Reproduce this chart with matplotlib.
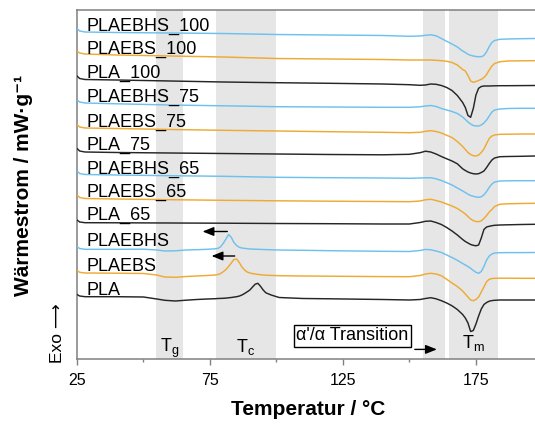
import matplotlib
matplotlib.use("Agg")
import matplotlib.pyplot as plt

plt.rcParams['font.family'] = ['Liberation Sans', 'DejaVu Sans']

# Temperature grid for the annealed samples (second heating after annealing)
T_ann = [25, 26, 28, 40, 60, 80, 100, 120, 140, 150, 154, 156, 158, 160, 162, 164,
         166, 168, 170, 171, 172, 173, 174, 175, 176, 177, 178, 179, 180, 181, 182,
         184, 187, 192, 197]

# Heat flow (stacked, exo up, arbitrary offsets)
plaebhs_100 = [330.5, 328, 327, 326.5, 326, 325.5, 324.5, 324, 323.5, 322.7, 323, 323.7,
               324.2, 323.2, 320.5, 317.7, 315, 312, 308, 306.5, 304.7, 303.7, 303, 302.5,
               302.3, 302.3, 303.5, 307.3, 312.5, 316.5, 318.5, 319.7, 320, 320.3, 320.5]
plaebs_100 = [308, 306, 305, 304, 303, 302, 300.5, 300, 299.5, 299, 299, 299, 299, 298.7,
              298.3, 297.7, 296.5, 294, 289.5, 288, 283.5, 278, 276.7, 277.5, 278.5, 279.7,
              281.5, 284.5, 289, 293, 295.5, 297.3, 298, 298.2, 298.3]
pla_100 = [283, 280.5, 279.5, 279, 278, 277, 276.3, 275.7, 275, 274.3, 273.7, 274, 275,
           274.7, 273.5, 271.5, 268.5, 263.5, 256.5, 251.5, 243.5, 241.7, 250.5, 264, 270.7,
           272.5, 273, 273, 273, 273.1, 273.2, 273.3, 273.3, 273.4, 273.5]
plaebhs_75 = [259, 257, 256, 255.2, 254, 253.2, 252.3, 252, 251.7, 251.7, 252.2, 253, 253.5,
              252.5, 250.5, 249, 247.5, 245.5, 242, 239.5, 237, 235, 233.5, 233, 233, 234,
              236, 239, 243, 247, 249, 250, 250.5, 250.7, 250.7]
plaebs_75 = [234.5, 232, 231, 230.5, 229.5, 228.7, 228, 227.3, 226.7, 226.3, 226.7, 227.7,
             228.3, 227.5, 226, 223.7, 221.5, 217.5, 212.5, 209.5, 206.5, 204.5, 203.3, 203,
             204, 206.5, 210, 215.5, 220.5, 223, 224, 224.7, 224.8, 225, 225]
pla_75 = [210.5, 208, 207, 206.5, 206, 205.5, 205, 204.5, 204.2, 204.7, 206.3, 207.8, 207,
          205, 202.5, 200.2, 198, 195.2, 190.2, 188.5, 187, 186, 185.3, 185, 185.3, 186.5,
          188, 191.5, 195.5, 199, 201, 202.3, 202.5, 202.7, 203]
plaebhs_65 = [188, 185.5, 184.5, 184, 183.3, 182.7, 181.7, 181.3, 181, 180.7, 181, 181.2,
              181.3, 180.2, 178.5, 176.3, 174, 171, 168, 166.5, 164.8, 163.5, 162.7, 162,
              161.7, 162.2, 164.2, 167.5, 171.7, 175, 177, 178, 178.2, 178.3, 178.3]
plaebs_65 = [164, 161.5, 160.5, 160, 159.3, 158.7, 158.2, 157.8, 157.5, 157.3, 158, 159.2,
             159.7, 158.5, 157, 155, 153, 150.5, 147, 145, 142.5, 140, 138.3, 137.5, 137.3,
             138.2, 140.5, 143.5, 147, 149.5, 152.5, 154.8, 155.2, 155.5, 155.7]
pla_65 = [139, 137, 136.3, 136.2, 136, 135.8, 135.5, 135.3, 135, 135, 136.5, 137.7, 138,
          136.5, 134.5, 131.5, 128, 124, 119.5, 117.5, 116, 114.5, 113.7, 113.2, 114, 121,
          129.5, 132, 132.7, 133.3, 133.7, 134, 134.2, 134.5, 134.7]

# Temperature grid for the first heating runs (with cold crystallisation)
T_first = [25, 26, 28, 40, 50, 55, 58, 62, 66, 70, 74, 77, 78, 79, 80, 81, 82, 83, 84, 85,
           86, 87, 88, 89, 90, 91, 92, 93, 94, 95, 96, 98, 101, 110, 120, 140, 150, 154,
           156, 158, 160, 162, 164, 166, 168, 170, 171, 172, 173, 174, 175, 176, 177, 178,
           179, 180, 181, 182, 184, 187, 192, 197]

plaebhs = [112.3, 110.5, 109.7, 109.7, 109.8, 109, 108, 108.2, 109, 109.3, 109.7, 110.2,
           110.7, 112.2, 115.7, 120, 124.5, 121.7, 116.5, 113.5, 111.7, 111, 110.6, 110.3,
           110, 109.9, 109.8, 109.7, 109.6, 109.5, 109.4, 109.2, 109, 108.7, 108.3, 107.7,
           107.5, 108.5, 109.6, 109.2, 108, 106.5, 104, 101.5, 98.7, 95.5, 94, 92.5, 90.7,
           88.5, 86.7, 85.7, 87.5, 92.5, 99, 103, 105, 106, 106.3, 106.4, 106.4, 106.5]
plaebs = [88.5, 86.7, 86, 85.8, 85.5, 84, 82, 81.7, 82.5, 83, 83.5, 84, 84.5, 85.5, 87.3,
          89.5, 92.5, 96, 99.5, 100, 96.5, 92, 89, 87, 86, 85.4, 85, 84.6, 84.3, 84, 83.8,
          83.6, 83.3, 83, 82.8, 82.4, 82.3, 83.5, 85, 85.7, 85, 83.3, 79.7, 76, 72.5, 68,
          65, 62, 59, 58.3, 59.5, 62, 67, 72, 77.3, 79.7, 80.5, 80.7, 80.8, 80.8, 80.7, 80.7]
pla = [64.5, 63, 62.3, 62.3, 62, 60, 58.7, 58, 58.8, 59.5, 60, 60.3, 60.5, 60.6, 60.7,
       60.9, 61.2, 61.5, 61.9, 62.3, 62.9, 64, 65.5, 67.2, 69, 72, 74.8, 75.7, 72.7, 69,
       66.2, 64, 61.5, 60.5, 60.2, 59.5, 59, 59.5, 60.5, 61.3, 60.2, 58.3, 56, 53.2, 49.5,
       44.5, 41, 36, 27.5, 28.5, 35, 43, 50, 54.5, 56.5, 57.8, 58.4, 58.7, 59, 59, 59, 59]

sample_names = ['PLAEBHS_100', 'PLAEBS_100', 'PLA_100',
                'PLAEBHS_75', 'PLAEBS_75', 'PLA_75',
                'PLAEBHS_65', 'PLAEBS_65', 'PLA_65',
                'PLAEBHS', 'PLAEBS', 'PLA']
label_heights = [328, 305, 281.3, 257.3, 232.3, 209, 185, 162, 139, 113, 88.3, 64]

# Transition ranges (Tg, Tc, alpha'/alpha, Tm)
regions = [(54.7, 64.8), (77.4, 99.8), (155.2, 163.2), (164.9, 183.2)]

major_ticks = [25, 75, 125, 175]
minor_ticks = [50, 100, 150]

blue = '#6EC1EF'
orange = '#EFAA33'
black = '#262626'
gray_band = '#E6E6E6'
spine_gray = '#808080'

fig = plt.figure(figsize=(5.35, 4.24), dpi=100)
ax = fig.add_axes([77 / 535, 65 / 424, 458 / 535, 349 / 424])

for lo, hi in regions:
    ax.axvspan(lo, hi, color=gray_band, lw=0, zorder=0)

series = [
    (T_ann, plaebhs_100, blue), (T_ann, plaebs_100, orange), (T_ann, pla_100, black),
    (T_ann, plaebhs_75, blue), (T_ann, plaebs_75, orange), (T_ann, pla_75, black),
    (T_ann, plaebhs_65, blue), (T_ann, plaebs_65, orange), (T_ann, pla_65, black),
    (T_first, plaebhs, blue), (T_first, plaebs, orange), (T_first, pla, black),
]
for t, q, c in series:
    ax.plot(t, q, color=c, lw=1.05, zorder=3, solid_joinstyle='round')

for name, h in zip(sample_names, label_heights):
    ax.text(28.4, h, name, fontsize=13, ha='left', va='baseline', zorder=4)

# shift of the cold crystallisation peak
arrow_kw = dict(arrowstyle='-|>,head_length=0.45,head_width=0.18', color='black',
                lw=1, shrinkA=0, shrinkB=0, mutation_scale=15)
ax.annotate('', xy=(72.2, 127.5), xytext=(81.5, 127.5), arrowprops=arrow_kw)
ax.annotate('', xy=(75.6, 103), xytext=(84.3, 103), arrowprops=arrow_kw)

# alpha'/alpha transition box with arrow
ax.text(128.6, 23, "α'/α Transition", fontsize=13, ha='center', va='center', zorder=5,
        bbox=dict(boxstyle='square,pad=0.15', fc='white', ec='black', lw=1))
ax.annotate('', xy=(160.3, 9.6), xytext=(152.0, 9.6), arrowprops=arrow_kw, zorder=5)

ax.text(60, 7.3, r'$\mathregular{T_g}$', fontsize=13, ha='center', va='baseline')
ax.text(88.5, 7.3, r'$\mathregular{T_c}$', fontsize=13, ha='center', va='baseline')
ax.text(173.9, 10.7, r'$\mathregular{T_m}$', fontsize=13, ha='center', va='baseline')

ax.set_xlim(25, 197.2)
ax.set_ylim(0, 349)
ax.set_xticks(major_ticks)
ax.set_xticks(minor_ticks, minor=True)
ax.set_yticks([])
ax.tick_params(axis='x', which='major', direction='out', length=4, width=1,
               color=spine_gray, labelsize=11.5, pad=6)
ax.tick_params(axis='x', which='minor', direction='out', length=2.5, width=1,
               color=spine_gray)
for side in ['left', 'top', 'bottom']:
    ax.spines[side].set_color(spine_gray)
    ax.spines[side].set_linewidth(1.1)
ax.spines['right'].set_visible(False)

ax.set_xlabel('Temperatur / °C', fontsize=15, fontweight='bold')
ax.xaxis.set_label_coords(0.504, -0.118)
fig.text(24 / 535, 1 - 185 / 424, 'Wärmestrom / mW·g⁻¹', rotation=90, fontsize=15,
         fontweight='bold', ha='center', va='center')
fig.text(58 / 535, 1 - 333 / 424, 'Exo ⟶', rotation=90, fontsize=12.5,
         ha='center', va='center')

plt.savefig('out.png', dpi=100)
